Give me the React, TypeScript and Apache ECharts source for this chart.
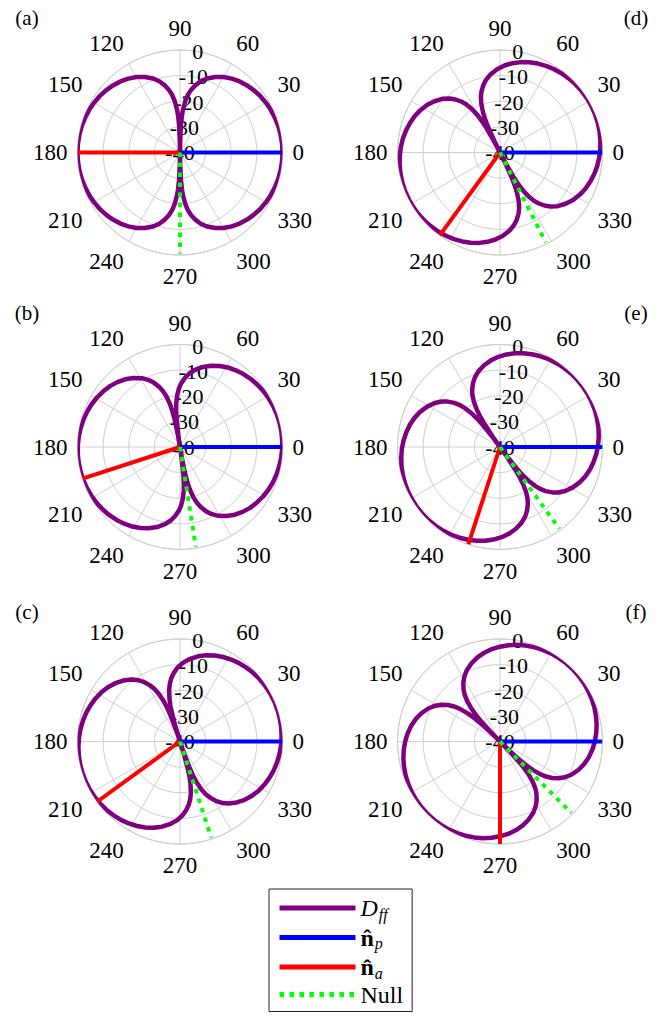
import React, { useEffect, useRef } from "react";
import * as echarts from "echarts";

// ---- data ----
const PANEL_LABELS = ["(a)", "(b)", "(c)", "(d)", "(e)", "(f)"];
// direction of n̂_a (red) per panel, degrees
const NA_ANGLES = [180, 198, 216, 234, 252, 270];
// direction of the null (green) per panel, degrees
const NULL_ANGLES = [270, 279, 288, 297, 306, 315];
// direction of n̂_p (blue), same in every panel
const NP_ANGLE = 0;
// D_ff lobe (dB) read along the angle measured from the null, 0..90 degrees
const LOBE_OFFSETS = [0, 1, 2, 3, 4, 6, 8, 10, 13, 16, 20, 25, 30, 35, 40, 45, 50, 55, 60, 65, 70, 75, 80, 85, 90];
const LOBE_DB = [-40, -35.2, -29.1, -25.6, -23.1, -19.6, -17.1, -15.2, -13.0, -11.2, -9.3, -7.5, -6.0, -4.8, -3.8, -3.0, -2.3, -1.7, -1.25, -0.85, -0.55, -0.3, -0.13, -0.03, 0];
const R_MIN = -40;
const R_MAX = 0;
const R_STEP = 10;
const ANGLE_STEP = 30;

const LEGEND_NAMES = ["Dff", "np", "na", "Null"];
const LEGEND_TEXT: Record<string, string> = {
  Dff: "{i|D}{sub|ff}",
  np: "{b|n\u0302}{sub|p}",
  na: "{b|n\u0302}{sub|a}",
  Null: "{r|Null}",
};

// ---- layout ----
const CENTERS: [number, number][] = [
  [180, 152.5],
  [180, 447],
  [180, 741.5],
  [500, 152.5],
  [500, 447],
  [500, 741.5],
];
const LABEL_POS: [number, number][] = [
  [27, 18],
  [27, 313],
  [27, 612],
  [636, 18],
  [636, 313],
  [636, 612],
];
const RADIUS = 102.5;
const FONT = "Liberation Serif";
const PURPLE = "#7f007f";
const BLUE = "#0000ff";
const RED = "#ff0000";
const GREEN = "#00ff00";
const GRID = "#cfcfcf";

function lobeData(nullAngle: number): [number, number][] {
  const half1 = LOBE_OFFSETS.map((o, i) => [o, LOBE_DB[i]] as [number, number]);
  const half2 = LOBE_OFFSETS.slice(0, -1)
    .map((o, i) => [180 - o, LOBE_DB[i]] as [number, number])
    .reverse();
  const lobe = [...half1, ...half2];
  const full = [...lobe, ...lobe.slice(1).map(([o, d]) => [o + 180, d] as [number, number])];
  return full.map(([o, d]) => [Math.max(d, R_MIN), (nullAngle + o) % 360]);
}

function buildOption() {
  const polar: any[] = [];
  const angleAxis: any[] = [];
  const radiusAxis: any[] = [];
  const series: any[] = [];
  const graphic: any[] = [];

  CENTERS.forEach((c, p) => {
    // main polar
    polar.push({ center: c, radius: RADIUS });
    angleAxis.push({
      polarIndex: 2 * p,
      type: "value",
      min: 0,
      max: 360,
      interval: ANGLE_STEP,
      startAngle: 0,
      clockwise: false,
      axisLine: { show: true, lineStyle: { color: GRID, width: 1 } },
      axisTick: { show: false },
      splitLine: { show: true, lineStyle: { color: GRID, width: 1 } },
      axisLabel: {
        show: true,
        margin: 10,
        color: "#000",
        fontFamily: FONT,
        fontSize: 23,
        formatter: (v: number) => (v >= 360 ? "" : String(v)),
      },
    });
    radiusAxis.push({
      polarIndex: 2 * p,
      type: "value",
      min: R_MIN,
      max: R_MAX,
      interval: R_STEP,
      axisLine: { show: false },
      axisTick: { show: false },
      axisLabel: { show: false },
      splitLine: { show: true, lineStyle: { color: GRID, width: 1 } },
    });
    // helper polar only for the dB labels along the 80 degree ray
    polar.push({ center: c, radius: RADIUS });
    angleAxis.push({
      polarIndex: 2 * p + 1,
      type: "value",
      min: 0,
      max: 360,
      startAngle: 80,
      show: false,
    });
    radiusAxis.push({
      polarIndex: 2 * p + 1,
      type: "value",
      min: R_MIN,
      max: R_MAX,
      interval: R_STEP,
      axisLine: { show: false },
      axisTick: { show: false },
      splitLine: { show: false },
      axisLabel: {
        show: true,
        margin: 0,
        align: "center",
        verticalAlign: "middle",
        color: "#000",
        fontFamily: FONT,
        fontSize: 22,
      },
    });

    series.push({
      name: "Dff",
      type: "line",
      coordinateSystem: "polar",
      polarIndex: 2 * p,
      symbol: "none",
      smooth: false,
      lineStyle: { color: PURPLE, width: 4.5 },
      itemStyle: { color: PURPLE },
      data: lobeData(NULL_ANGLES[p]),
      z: 2,
    });
    series.push({
      name: "np",
      type: "line",
      coordinateSystem: "polar",
      polarIndex: 2 * p,
      symbol: "none",
      lineStyle: { color: BLUE, width: 4 },
      itemStyle: { color: BLUE },
      data: [
        [R_MIN, NP_ANGLE],
        [R_MAX, NP_ANGLE],
      ],
      z: 3,
    });
    series.push({
      name: "na",
      type: "line",
      coordinateSystem: "polar",
      polarIndex: 2 * p,
      symbol: "none",
      lineStyle: { color: RED, width: 4 },
      itemStyle: { color: RED },
      data: [
        [R_MIN, NA_ANGLES[p]],
        [R_MAX, NA_ANGLES[p]],
      ],
      z: 4,
    });
    series.push({
      name: "Null",
      type: "line",
      coordinateSystem: "polar",
      polarIndex: 2 * p,
      symbol: "none",
      lineStyle: { color: GREEN, width: 4, type: [4.5, 5.5] },
      itemStyle: { color: GREEN },
      data: [
        [R_MIN, NULL_ANGLES[p]],
        [R_MAX - 0.6, NULL_ANGLES[p]],
      ],
      z: 5,
    });

    graphic.push({
      type: "text",
      x: LABEL_POS[p][0],
      y: LABEL_POS[p][1],
      style: {
        text: PANEL_LABELS[p],
        fontFamily: FONT,
        fontSize: 21,
        fill: "#000",
        align: "center",
        verticalAlign: "middle",
      },
    });
  });

  return {
    animation: false,
    backgroundColor: "#fff",
    polar,
    angleAxis,
    radiusAxis,
    series,
    graphic,
    legend: {
      data: LEGEND_NAMES,
      orient: "vertical",
      left: 269,
      top: 889,
      height: 300,
      padding: [5, 9, 5, 8],
      itemWidth: 76,
      itemHeight: 20,
      itemGap: 1.5,
      backgroundColor: "#fff",
      borderColor: "#222",
      borderWidth: 1,
      borderRadius: 0,
      selectedMode: false,
      lineStyle: { width: 5 },
      itemStyle: { opacity: 0, borderWidth: 0 },
      formatter: (name: string) => LEGEND_TEXT[name],
      textStyle: {
        color: "#000",
        fontFamily: FONT,
        fontSize: 24,
        rich: {
          i: { fontFamily: FONT, fontSize: 24, lineHeight: 28, fontStyle: "italic", color: "#000" },
          b: { fontFamily: FONT, fontSize: 24, lineHeight: 28, fontWeight: "bold", color: "#000" },
          r: { fontFamily: FONT, fontSize: 24, lineHeight: 28, color: "#000" },
          sub: {
            fontFamily: FONT,
            fontSize: 16,
            lineHeight: 16,
            fontStyle: "italic",
            color: "#000",
            padding: [12, 0, 0, 1],
          },
        },
      },
    },
  };
}

export default function App() {
  const ref = useRef<HTMLDivElement>(null);
  useEffect(() => {
    if (!ref.current) return;
    const chart = echarts.init(ref.current, undefined, { renderer: "svg" });
    chart.setOption(buildOption() as any);
    return () => chart.dispose();
  }, []);
  return (
    <div
      ref={ref}
      style={{ position: "absolute", left: 0, top: 0, width: 661, height: 1017, background: "#fff" }}
    />
  );
}
